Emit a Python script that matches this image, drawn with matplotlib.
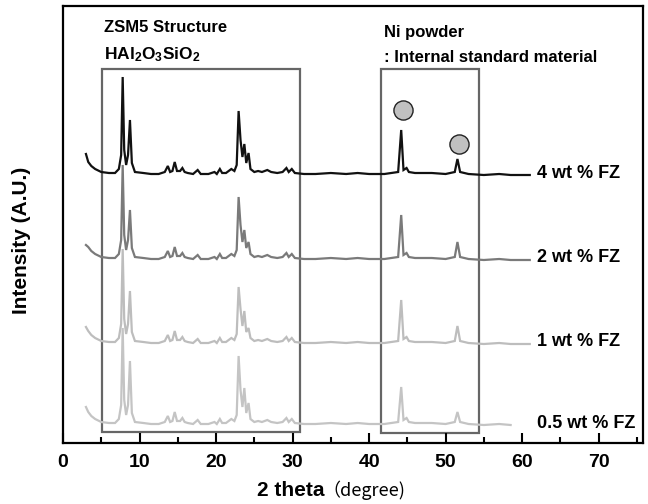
import numpy as np
import matplotlib
matplotlib.use("Agg")
import matplotlib.pyplot as plt
from matplotlib.patches import Rectangle

plt.rcParams['font.family'] = ['Liberation Sans', 'DejaVu Sans']
plt.rcParams['mathtext.fontset'] = 'custom'
plt.rcParams['mathtext.bf'] = 'Liberation Sans:bold'
plt.rcParams['mathtext.rm'] = 'Liberation Sans:bold'
plt.rcParams['mathtext.default'] = 'bf'

# %%
# 2 theta vertices of the traces, shared by all samples
two_theta = [3.0, 3.3, 3.7, 4.2, 5.0, 6.0, 6.8, 7.3, 7.6, 7.8, 8.0, 8.25, 8.5, 8.75, 9.0,
             9.4, 10.5, 11.5, 12.5, 13.3, 13.7, 14.0, 14.3, 14.6, 14.9, 15.3, 15.6, 15.9,
             16.3, 17.0, 17.6, 18.0, 19.0, 19.8, 20.1, 20.5, 20.8, 21.3, 22.0, 22.4, 22.7,
             22.95, 23.2, 23.45, 23.7, 23.95, 24.25, 24.5, 25.0, 25.5, 26.0, 26.7, 27.2,
             28.0, 28.7, 29.2, 29.5, 29.9, 30.3, 31.5, 33.0, 35.0, 37.0, 38.5, 40.0, 42.0,
             43.8, 44.2, 44.5, 44.9, 45.2, 46.0, 47.0, 48.2, 50.0, 51.2, 51.55, 51.9, 53.0,
             55.0, 57.0, 58.5, 61.0]
# small background features (height above baseline)
minor = [18, 13, 9, 6, 3, 2, 2, 6, 20, 0, 25, 10, 20, 0, 12,
         3, 2, 1, 1, 3, 9, 3, 4, 13, 4, 4, 7, 3,
         2, 1, 5, 1, 1, 3, 1, 6, 2, 2, 6, 4, 10,
         0, 35, 18, 0, 12, 0, 6, 3, 4, 3, 5, 3,
         2, 3, 7, 3, 6, 2, 1, 1, 2, 1, 2, 1, 1,
         3, 0, 5, 7, 3, 2, 2, 2, 1, 3, 0, 3, 1,
         0, 1, 0, 0]

# main reflections: start, ZSM5 peaks, Ni peaks
main_pos = [3.0, 7.8, 8.75, 22.95, 23.7, 24.25, 44.2, 51.55]
h_4wt = [21, 98, 55, 64, 31, 22, 45, 16]
h_2wt = [15, 95, 50, 63, 30, 18, 45, 18]
h_1wt = [17, 95, 53, 57, 33, 16, 44, 18]
h_05wt = [18, 97, 64, 69, 37, 22, 38, 13]

labels = ["4 wt % FZ", "2 wt % FZ", "1 wt % FZ", "0.5 wt % FZ"]
baselines = [268, 183, 99, 18]
x_end = [61.0, 61.0, 61.0, 58.5]
colors = ["#111111", "#7a7a7a", "#bdbdbd", "#c4c4c4"]
xticks = [0, 10, 20, 30, 40, 50, 60, 70]

# %%
fig = plt.figure(figsize=(6.48, 5.04), dpi=100)
ax = fig.add_axes([63 / 648, 1 - 443 / 504, 580 / 648, 437 / 504])

tt = np.array(two_theta)
for heights, base, xe, col, lab in zip([h_4wt, h_2wt, h_1wt, h_05wt], baselines, x_end, colors, labels):
    y = np.array(minor, dtype=float)
    for p, h in zip(main_pos, heights):
        y[two_theta.index(p)] = h
    keep = tt <= xe
    ax.plot(tt[keep], y[keep] + base, color=col, lw=1.6, solid_joinstyle='miter')
    ax.text(62.0, base + 2, lab, fontsize=13, fontweight='bold', va='center', ha='left')

# boxes around ZSM5 and Ni regions
ax.add_patch(Rectangle((5.16, 11), 31.0 - 5.16, 374 - 11, fill=False, ec="#666666", lw=1.6))
ax.add_patch(Rectangle((41.6, 10), 54.4 - 41.6, 374 - 10, fill=False, ec="#666666", lw=1.6))

# Ni markers
ax.scatter([44.4, 51.75], [333, 299], s=190, c="#c0c0c0", edgecolors="#222222", linewidths=1.0, zorder=5)

ax.text(5.3, 415, "ZSM5 Structure", fontsize=12, fontweight='bold', va='center')
ax.text(5.3, 388, r"HAl$_{2}$O$_{3}$SiO$_{2}$", fontsize=12.5, fontweight='bold', va='center')
ax.text(41.9, 411, "Ni powder", fontsize=12, fontweight='bold', va='center')
ax.text(41.9, 386, ": Internal standard material", fontsize=12, fontweight='bold', va='center')

ax.set_xlim(0, 75.8)
ax.set_ylim(0, 437)
ax.set_xticks(xticks, [str(t) for t in xticks], fontsize=14, fontweight='bold')
ax.set_xticks(range(5, 80, 10), minor=True)
ax.set_yticks([])
ax.tick_params(axis='x', which='major', direction='in', length=7, width=1.5, pad=8)
ax.tick_params(axis='x', which='minor', direction='in', length=4, width=1.5)
for s in ax.spines.values():
    s.set_linewidth(1.6)

fig.text(257 / 648, 1 - 490 / 504, "2 theta", fontsize=15, fontweight='bold', va='center', ha='left')
fig.text(322 / 648, 1 - 490 / 504, "\uff08degree)", fontsize=13, va='center', ha='left',
         family=['Noto Sans CJK JP', 'Liberation Sans'])
fig.text(22 / 648, 1 - 240 / 504, "Intensity (A.U.)", fontsize=15, fontweight='bold',
         rotation=90, va='center', ha='center')

fig.savefig("out.png", dpi=100)
